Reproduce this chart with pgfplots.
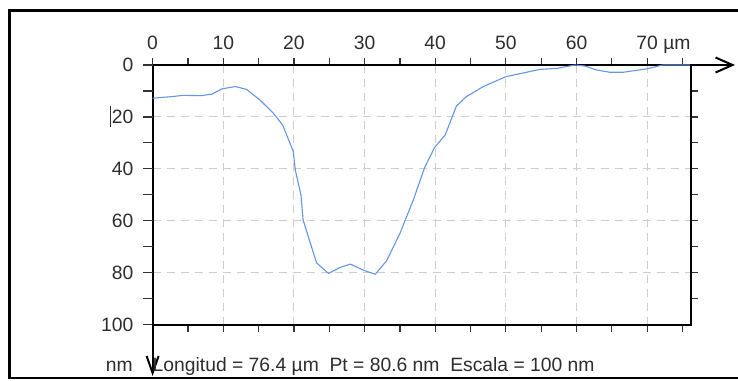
\documentclass[border=0pt]{standalone}
\usepackage{pgfplots}
\pgfplotsset{compat=1.18}
\usepackage{fontspec}
\setmainfont{Liberation Sans}
\usetikzlibrary{arrows.meta}
\definecolor{curve}{RGB}{100,150,225}
\definecolor{gridc}{RGB}{205,205,205}
\definecolor{txt}{RGB}{45,45,45}
\begin{document}
\fontsize{19.3pt}{22pt}\selectfont
\begin{tikzpicture}[x=1pt,y=1pt]
\useasboundingbox (0,0) rectangle (738,380);
\draw[line width=2.4pt] (9.3,2.3) rectangle (760,369.5);
\begin{axis}[
  at={(152.6pt,55.4pt)}, anchor=south west,
  scale only axis, width=538.4pt, height=259.6pt,
  xmin=0, xmax=76.2, ymin=0, ymax=100, y dir=reverse,
  clip=false,
  axis line style={line width=2pt, black},
  tick align=outside,
  major tick length=7pt, minor tick length=7pt,
  every tick/.style={black!80, line width=1.2pt},
  xtick={0,10,...,70}, minor xtick={5,15,...,75},
  xticklabels={0,10,20,30,40,50,60,{70\rlap{ µm}}},
  xticklabel pos=top, xtick pos=both,
  xticklabel style={inner sep=0pt, text=txt, anchor=base, yshift=8.5pt},
  ytick={20,40,60,80}, minor ytick={10,30,50,70,90},
  ytick pos=right, yticklabels={},
  grid=major,
  major grid style={gridc, dash pattern=on 8pt off 6pt, line width=1pt},
]
\addplot[curve, line width=1.1pt] table {
x y
0 12.8
3.0 12.1
4.3 11.7
6.9 11.8
8.4 11.2
9.8 9.2
11.7 8.3
13.3 9.4
15.2 13.5
17.1 18.6
18.4 23.1
19.9 33.2
20.2 40.5
21.0 50.1
21.3 59.7
23.2 76.2
24.9 80.3
26.5 78
28.0 76.7
29.8 79
31.5 80.6
33.1 75.5
35.0 64.9
36.9 52
38.5 39.5
39.9 31.8
41.4 27
43.0 15.8
44.4 12.2
46.8 8.3
50.0 4.5
52.9 2.8
54.8 1.7
57.2 1.3
59.8 0
61.2 0.4
62.8 1.9
64.7 2.8
66.6 2.8
69.9 1.5
72.2 0
76.2 0
};
\end{axis}
\begin{axis}[
  at={(152.6pt,55.4pt)}, anchor=south west,
  scale only axis, width=538.4pt, height=259.6pt,
  xmin=0, xmax=76.2, ymin=0, ymax=100, y dir=reverse,
  axis line style={draw=none},
  tick align=outside,
  major tick length=10pt, minor tick length=10pt,
  every tick/.style={black!80, line width=1.2pt},
  xtick=\empty,
  ytick={0,20,...,100}, minor ytick={10,30,50,70,90},
  ytick pos=left,
  yticklabels={0,{\llap{\rule[-3.5pt]{1.2pt}{21pt}\hspace{0.8pt}}20},40,60,80,100},
  yticklabel style={inner sep=0pt, text=txt, anchor=east, xshift=-9pt},
]
\end{axis}
\draw[line width=2pt, -{Straight Barb[length=17pt, width=15pt]}] (690,315) -- (735,315);
\draw[line width=2pt, -{Straight Barb[length=17pt, width=12pt]}] (152.6,56) -- (152.6,4);
\node[anchor=base east, inner sep=0pt, text=txt] at (133,8.3) {nm};
\node[anchor=base west, inner sep=0pt, text=txt] at (152.5,8.3) {Longitud = 76.4 µm\ \ Pt = 80.6 nm\ \ Escala = 100 nm};
\end{tikzpicture}
\end{document}
